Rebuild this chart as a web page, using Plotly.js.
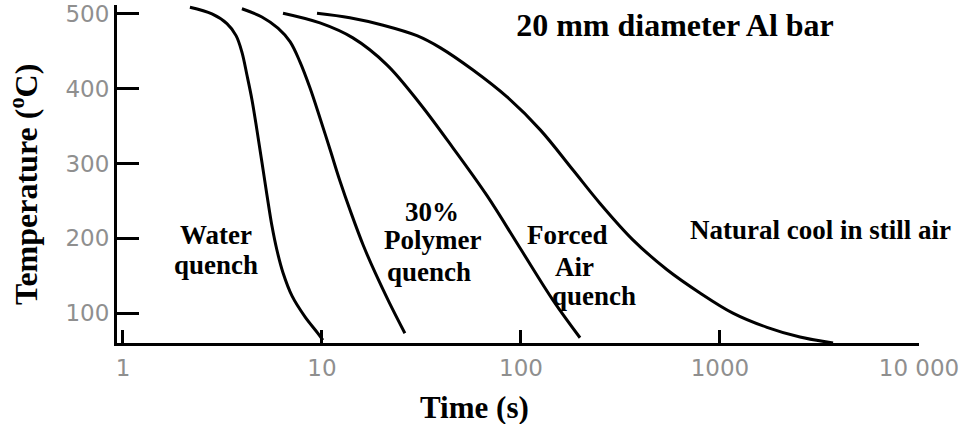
<!DOCTYPE html>
<html>
<head>
<meta charset="utf-8">
<script src="https://cdn.plot.ly/plotly-3.0.1.min.js"></script>
<style>html,body{margin:0;padding:0;background:#fff;}#chart{width:979px;height:424px;}</style>
</head>
<body>
<div id="chart"></div>
<script>
// Time (s) and temperature (°C)
const waterTime    = [2.17, 2.80, 3.33, 3.70, 3.96, 4.20, 4.45, 4.71, 4.99, 5.29, 5.61, 5.94, 6.37, 7.07, 8.22, 9.54, 10.1];
const waterTemp    = [509, 500, 487, 471, 449, 418, 385, 345, 302, 258, 216, 184, 154, 123, 95, 73, 64];
const polymerTime  = [3.96, 4.99, 6.01, 6.91, 7.75, 8.71, 9.77, 11.0, 12.3, 14.0, 16.1, 18.5, 21.7, 26.1];
const polymerTemp  = [507, 496, 481, 463, 436, 401, 361, 318, 277, 234, 191, 154, 115, 73];
const forcedTime   = [6.37, 9.77, 14.3, 21.2, 31.1, 45.5, 67.5, 98.9, 145, 198];
const forcedTemp   = [501, 488, 468, 432, 380, 321, 257, 187, 117, 67];
const naturalTime  = [9.44, 13.8, 20.3, 30.0, 39.2, 57.4, 85.1, 125, 183, 249, 365, 542, 793, 1161, 1722, 2523, 3700];
const naturalTemp  = [501, 495, 485, 471, 455, 425, 389, 345, 291, 247, 198, 158, 127, 100, 81, 68, 60];

const xTickVals  = [1, 10, 100, 1000, 10000];
const xTickText  = ["1", "10", "100", "1000", "10 000"];
const yTickVals  = [100, 200, 300, 400, 500];

// curve labels, one entry per text line
const labelTexts = ["Water", "quench", "30%", "Polymer", "quench", "Forced", "Air", "quench", "Natural cool in still air"];
const labelTime  = [2.93, 2.93, 35.7, 36.1, 34.5, 170, 185, 233, 3184];
const labelTemp  = [204, 164, 235, 198, 155, 204, 162, 123, 211];

const serif = "Liberation Serif, Times New Roman, serif";
const line = {color: "#000", width: 3, shape: "spline", smoothing: 1};

const traces = [
  {x: waterTime, y: waterTemp, mode: "lines", line: line, name: "Water quench"},
  {x: polymerTime, y: polymerTemp, mode: "lines", line: line, name: "30% Polymer quench"},
  {x: forcedTime, y: forcedTemp, mode: "lines", line: line, name: "Forced Air quench"},
  {x: naturalTime, y: naturalTemp, mode: "lines", line: line, name: "Natural cool in still air"}
];

const annotations = labelTexts.map((t, i) => ({
  x: Math.log10(labelTime[i]), y: labelTemp[i], xref: "x", yref: "y",
  xanchor: "center", yanchor: "middle",
  text: "<b>" + t + "</b>", showarrow: false, align: "center",
  font: {family: serif, size: 27, color: "#000"}
}));
// axis titles placed as annotations to match the reference positions
annotations.push({
  x: (474 - 117) / 802, y: 1 - (407 - 5) / 338, xref: "paper", yref: "paper",
  xanchor: "center", yanchor: "middle",
  text: "<b>Time (s)</b>", showarrow: false,
  font: {family: serif, size: 31, color: "#000"}
});
annotations.push({
  x: (24 - 117) / 802, y: 1 - (185 - 5) / 338, xref: "paper", yref: "paper",
  xanchor: "center", yanchor: "middle", textangle: -90,
  text: "<b>Temperature (<sup>o</sup>C)</b>", showarrow: false,
  font: {family: serif, size: 32, color: "#000"}
});

const tickFont = {family: "DejaVu Sans, sans-serif", size: 23, color: "#8f8f8f"};

const layout = {
  width: 979, height: 424,
  margin: {l: 117, r: 60, t: 5, b: 81},
  paper_bgcolor: "#fff", plot_bgcolor: "#fff",
  showlegend: false,
  title: {
    text: "<b>20 mm diameter Al bar</b>",
    x: 675 / 979, xref: "container", xanchor: "center",
    y: 1 - 25 / 424, yref: "container", yanchor: "middle",
    font: {family: serif, size: 32, color: "#000"}
  },
  xaxis: {
    type: "log", range: [-0.03, 4],
    tickvals: xTickVals, ticktext: xTickText,
    ticks: "inside", ticklen: 13, tickwidth: 3, tickcolor: "#000",
    showline: true, linewidth: 3, linecolor: "#000",
    showgrid: false, zeroline: false,
    tickfont: tickFont, ticklabelstandoff: 2
  },
  yaxis: {
    range: [60, 512],
    tickvals: yTickVals,
    ticks: "inside", ticklen: 22, tickwidth: 3, tickcolor: "#000",
    showline: true, linewidth: 3, linecolor: "#000",
    showgrid: false, zeroline: false,
    tickfont: tickFont, ticklabelstandoff: 0
  },
  annotations: annotations
};

Plotly.newPlot("chart", traces, layout, {staticPlot: true, displayModeBar: false});
</script>
</body>
</html>
